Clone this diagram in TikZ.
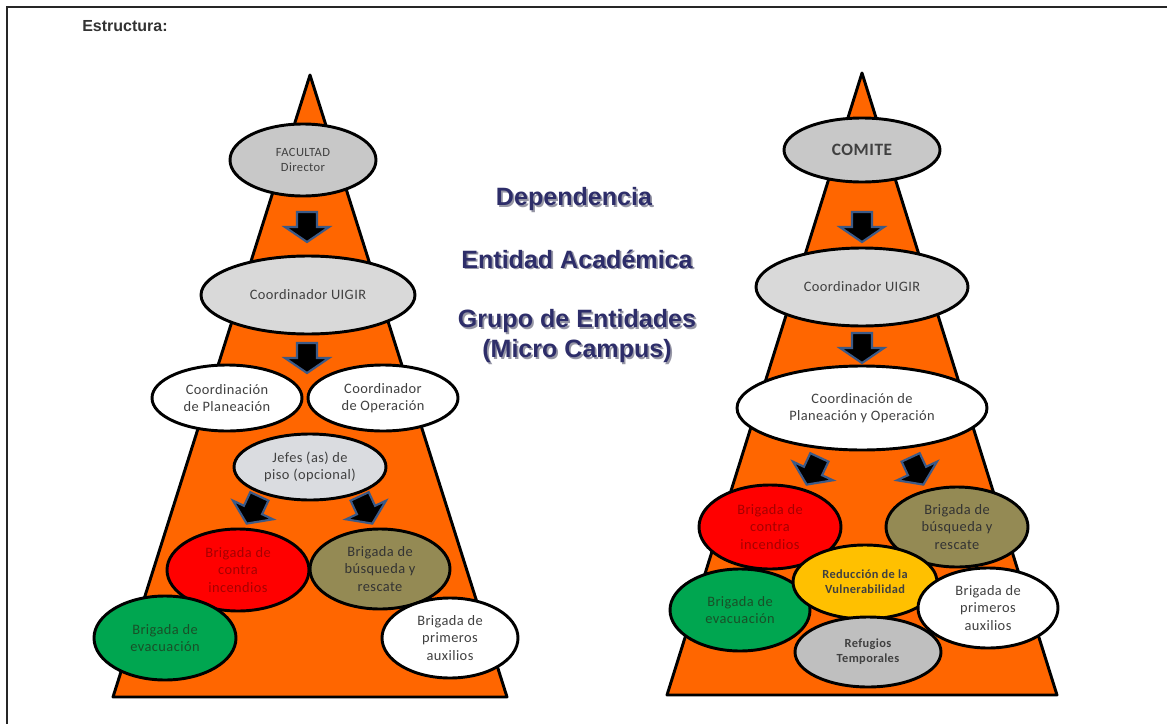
\documentclass[tikz,border=0pt]{standalone}
\usepackage{fontspec}
\setmainfont{Carlito}[LetterSpace=3]
\newfontfamily\arialfont{Liberation Sans}
\usetikzlibrary{shapes.geometric}
\definecolor{conecol}{RGB}{255,102,0}
\definecolor{grayA}{RGB}{200,200,200}
\definecolor{grayB}{RGB}{217,217,217}
\definecolor{grayC}{RGB}{218,220,224}
\definecolor{grayD}{RGB}{191,191,191}
\definecolor{redfill}{RGB}{255,0,0}
\definecolor{redtext}{RGB}{165,0,0}
\definecolor{olivefill}{RGB}{148,138,84}
\definecolor{greenfill}{RGB}{0,166,80}
\definecolor{greentext}{RGB}{25,80,40}
\definecolor{yellowfill}{RGB}{255,192,0}
\definecolor{txt}{RGB}{64,64,64}
\definecolor{headcol}{RGB}{45,45,105}
\definecolor{shadowcol}{RGB}{150,150,165}
\definecolor{arrowedge}{RGB}{60,90,135}
\newcommand{\shad}[1]{\leavevmode\rlap{\kern1.3pt\raisebox{-1.3pt}{\textcolor{shadowcol}{#1}}}#1}
\begin{document}
\begin{tikzpicture}[x=0.75pt,y=-0.75pt,
  ell/.style n args={3}{ellipse, draw=black, line width=2.2pt, inner sep=0pt,
    minimum width=#1*1.5pt, minimum height=#2*1.5pt, fill=#3, align=center,
    text=txt, font=\fontsize{10.8}{12.9}\selectfont},
  cone/.style={fill=conecol, draw=black, line width=2.2pt, line join=round},
  blockarr/.style={fill=black, draw=arrowedge, line width=1.6pt, line join=miter},
  heading/.style={align=center, text=headcol, font=\arialfont\bfseries\fontsize{18.8}{22}\selectfont},
  downarrow/.pic={\draw[blockarr] (-10,-15) -- (10,-15) -- (10,0) -- (22,0) -- (0,15) -- (-22,0) -- (-10,0) -- cycle;}
]
\useasboundingbox (0,0) rectangle (1167,724);
\fill[white] (0,0) rectangle (1167,724);
% frame
\draw[line width=1.4pt, black!85] (1167,7) -- (7,7) -- (7,724);
% title
\node[anchor=west, inner sep=0pt, text=black!80, font=\arialfont\bfseries\fontsize{12}{14}\selectfont] (title) at (82,26) {Estructura:};
% headings
\node[heading] (dep) at (574,200) {\shad{Dependencia}};
\node[heading] (ent) at (577,260) {\shad{Entidad Académica}};
\node[heading] (grp) at (577,337) {\shad{Grupo de Entidades}\\\shad{(Micro Campus)}};

% ===== left cone =====
\draw[cone] (310,75) -- (507,697) -- (113,697) -- cycle;
\node[ell={73}{36}{grayA}, font=\fontsize{9.4}{11.25}\selectfont] (fac) at (303,160) {FACULTAD\\Director};
\pic at (307,227) {downarrow};
\node[ell={107}{39}{grayB}] (uigL) at (308,295) {Coordinador UIGIR};
\pic at (307,358) {downarrow};
\node[ell={75}{33}{white}] (plan) at (227,398) {Coordinación\\de Planeación};
\node[ell={75}{33}{white}] (oper) at (383,398) {Coordinador\\de Operación};
\node[ell={76}{33}{grayC}] (jefes) at (310,467) {Jefes (as) de\\piso (opcional)};
\pic[rotate=-25] at (253,510) {downarrow};
\pic[rotate=25] at (366,510) {downarrow};
\node[ell={71}{41}{redfill}, text=redtext] (redL) at (238,570) {Brigada de\\contra\\incendios};
\node[ell={70}{40}{olivefill}, text=black!80] (oliveL) at (380,569) {Brigada de\\búsqueda y\\rescate};
\node[ell={71}{42}{greenfill}, text=greentext] (greenL) at (165,638) {Brigada de\\evacuación};
\node[ell={68}{40}{white}] (whiteL) at (450,638) {Brigada de\\primeros\\auxilios};

% ===== right cone =====
\draw[cone] (862,73) -- (1057,695) -- (667,695) -- cycle;
\node[ell={78}{32}{grayA}, font=\bfseries\fontsize{13}{15}\selectfont] (comite) at (862,150) {COMITE};
\pic at (862,227) {downarrow};
\node[ell={106}{39}{grayB}] (uigR) at (862,287) {Coordinador UIGIR};
\pic at (862,348) {downarrow};
\node[ell={125}{42}{white}] (cpo) at (862,408) {Coordinación de\\Planeación y Operación};
\pic[rotate=-25] at (813,471) {downarrow};
\pic[rotate=25] at (917,471) {downarrow};
\node[ell={71}{42}{redfill}, text=redtext] (redR) at (770,527) {Brigada de\\contra\\incendios};
\node[ell={71}{40}{olivefill}, text=black!80] (oliveR) at (957,527) {Brigada de\\búsqueda y\\rescate};
\node[ell={70}{41}{greenfill}, text=greentext] (greenR) at (740,610) {Brigada de\\evacuación};
\node[ell={72}{37}{yellowfill}, text=black!75, font=\bfseries\fontsize{9.3}{11.25}\selectfont] (yel) at (865,582) {Reducción de la\\Vulnerabilidad};
\node[ell={70}{40}{white}] (whiteR) at (988,608) {Brigada de\\primeros\\auxilios};
\node[ell={73}{35}{grayD}, font=\bfseries\fontsize{9.3}{11.25}\selectfont, text=black!75] (refug) at (868,652) {Refugios\\Temporales};
\end{tikzpicture}
\end{document}
